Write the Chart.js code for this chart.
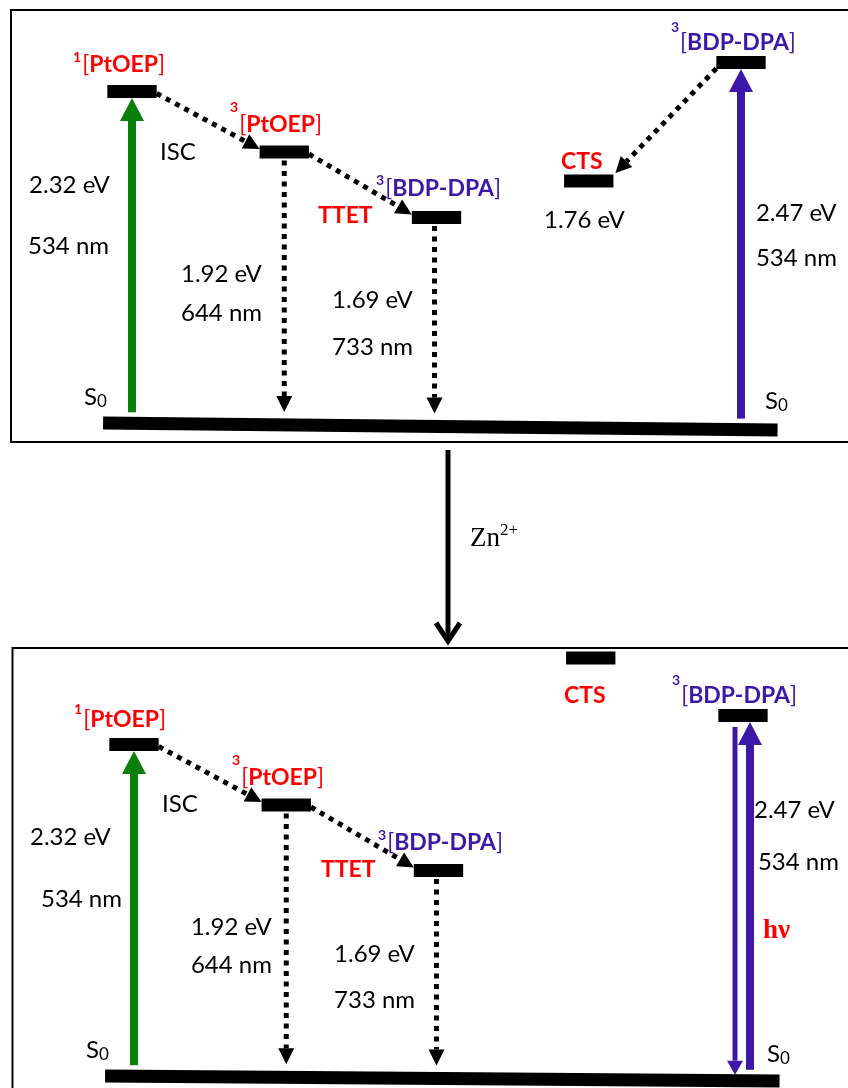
<!DOCTYPE html>
<html>
<head>
<meta charset="utf-8">
<title>PtOEP / BDP-DPA energy diagram</title>
<script src="https://cdn.jsdelivr.net/npm/chart.js@4/dist/chart.umd.min.js"></script>
<style>
    html, body { margin: 0; padding: 0; background: #fff; }
    canvas { display: block; }
</style>
</head>
<body>
<canvas id="topChart" width="848" height="647"></canvas>
<canvas id="bottomChart" width="848" height="441"></canvas>
<script>
/* ---- data -------------------------------------------------------- */
// states, left to right (one column each)
const levelNames = ['1[PtOEP]', '3[PtOEP]', '3[BDP-DPA]', 'CTS', '3[BDP-DPA]'];
const levelColumn = [1, 2, 3, 4, 5];
// schematic level heights (relative units, S0 = 0)
const topLevelE = [6.63, 5.42, 4.11, 4.84, 7.21];
const bottomLevelE = [6.63, 5.42, 4.11, 8.36, 7.21];
// ground state bar: column span and height at each end (drawn slightly tilted)
const groundSpan = [0.81, 5.24];
const topGroundE = [0, -0.14];
const bottomGroundE = [0, -0.10];

// transitions [from, to]; -1 means S0
const topTransitions = [[-1, 0], [0, 1], [1, 2], [1, -1], [2, -1], [-1, 4], [4, 3]];
const topTransitionKind = ['absorb', 'dot', 'dot', 'dot', 'dot', 'absorb', 'dot'];
const bottomTransitions = [[-1, 0], [0, 1], [1, 2], [1, -1], [2, -1], [-1, 4], [4, -1]];
const bottomTransitionKind = ['absorb', 'dot', 'dot', 'dot', 'dot', 'absorb', 'emit'];

// text on the diagram
const topLabels = ['1[PtOEP]', 'ISC', '3[PtOEP]', '2.32 eV', '534 nm', '1.92 eV', '644 nm',
    'TTET', '3[BDP-DPA]', '1.69 eV', '733 nm', 'S0', 'CTS', '1.76 eV', '3[BDP-DPA]',
    '2.47 eV', '534 nm', 'S0'];
const bottomLabels = ['1[PtOEP]', 'ISC', '3[PtOEP]', '2.32 eV', '534 nm', '1.92 eV', '644 nm',
    'TTET', '3[BDP-DPA]', '1.69 eV', '733 nm', 'S0', 'CTS', '3[BDP-DPA]',
    '2.47 eV', '534 nm', 'hν', 'S0'];

(function () {
    'use strict';

    const GREEN = '#0a800a';
    const PURPLE = '#3d18a8';
    const RED = '#ff0000';
    const INK = '#000000';
    const SANS = 'Lato, "Open Sans", sans-serif';
    const SERIF = '"Liberation Serif", "DejaVu Serif", serif';
    const HALF = 0.162;   // half width of a level bar (column units)
    const BAR = 13;       // bar thickness, px

    /* label placement: [x, y] in data units, style, superscript rise
     * -------------------------------------------------- */
    const topPlace = [
        [0.613, 7.02, 'red', 10], [1.184, 5.26, 'plain'], [1.644, 5.82, 'red', 20],
        [0.324, 4.60, 'plain'], [0.317, 3.38, 'plain'], [1.322, 2.82, 'plain'], [1.322, 2.04, 'plain'],
        [2.222, 4.00, 'tag'], [2.603, 4.54, 'purple', 11], [2.314, 2.30, 'plain'], [2.314, 1.36, 'plain'],
        [0.685, 0.36, 'ground'], [3.818, 5.08, 'tag'], [3.706, 3.90, 'plain'], [4.540, 7.46, 'purple', 18],
        [5.098, 4.04, 'plain'], [5.098, 3.14, 'plain'], [5.158, 0.28, 'ground']
    ];
    const bottomPlace = [
        [0.606, 6.98, 'red', 13], [1.184, 5.28, 'plain'], [1.644, 5.82, 'red', 20],
        [0.317, 4.62, 'plain'], [0.389, 3.38, 'plain'], [1.374, 2.82, 'plain'], [1.374, 2.06, 'plain'],
        [2.228, 3.98, 'tag'], [2.603, 4.52, 'purple', 10], [2.314, 2.28, 'plain'], [2.314, 1.36, 'plain'],
        [0.685, 0.36, 'ground'], [3.824, 7.46, 'tag'], [4.534, 7.46, 'purple', 18],
        [5.072, 5.16, 'plain'], [5.098, 4.12, 'plain'], [5.131, 2.76, 'hv'], [5.158, 0.28, 'ground']
    ];

    /* Drawing helpers
     * -------------------------------------------------- */
    function solidArrow(ctx, x, y0, y1, shaftW, headW, headL, color) {
        const dir = Math.sign(y1 - y0);
        const base = y1 - dir * headL;
        ctx.fillStyle = color;
        ctx.fillRect(x - shaftW / 2, Math.min(y0, base), shaftW, Math.abs(base - y0));
        ctx.beginPath();
        ctx.moveTo(x - headW / 2, base);
        ctx.lineTo(x + headW / 2, base);
        ctx.lineTo(x, y1);
        ctx.closePath();
        ctx.fill();
    }

    function dottedArrow(ctx, x0, y0, x1, y1) {
        const len = Math.hypot(x1 - x0, y1 - y0);
        const ux = (x1 - x0) / len, uy = (y1 - y0) / len;
        const headL = 16, headW = 8;
        const bx = x1 - ux * headL, by = y1 - uy * headL;
        ctx.save();
        ctx.strokeStyle = INK;
        ctx.lineWidth = 5;
        ctx.lineCap = 'butt';
        ctx.setLineDash([5, 5.5]);
        ctx.beginPath();
        ctx.moveTo(x0, y0);
        ctx.lineTo(bx, by);
        ctx.stroke();
        ctx.restore();
        ctx.fillStyle = INK;
        ctx.beginPath();
        ctx.moveTo(x1, y1);
        ctx.lineTo(bx - uy * headW, by + ux * headW);
        ctx.lineTo(bx + uy * headW, by - ux * headW);
        ctx.closePath();
        ctx.fill();
    }

    function drawState(ctx, txt, x, y, color, rise) {
        const inner = txt.slice(2, -1);
        ctx.fillStyle = color;
        ctx.font = 'bold 14px ' + SANS;
        ctx.fillText(txt[0], x, y - rise);
        x += ctx.measureText(txt[0]).width + 1;
        ctx.font = '23px ' + SANS;
        ctx.fillText('[', x, y);
        x += ctx.measureText('[').width;
        ctx.font = 'bold 23px ' + SANS;
        ctx.fillText(inner, x, y);
        x += ctx.measureText(inner).width;
        ctx.font = '23px ' + SANS;
        ctx.fillText(']', x, y);
    }

    function drawLabel(ctx, txt, x, y, style, rise) {
        ctx.textAlign = 'left';
        ctx.textBaseline = 'alphabetic';
        if (style === 'red' || style === 'purple') {
            drawState(ctx, txt, x, y, style === 'red' ? RED : PURPLE, rise);
        } else if (style === 'tag') {
            ctx.fillStyle = RED;
            ctx.font = 'bold 23px ' + SANS;
            ctx.fillText(txt, x, y);
        } else if (style === 'ground') {
            ctx.fillStyle = INK;
            ctx.font = '24px ' + SANS;
            ctx.fillText(txt[0], x, y);
            const w = ctx.measureText(txt[0]).width;
            ctx.font = '17px ' + SANS;
            ctx.fillText(txt.slice(1), x + w, y + 2);
        } else if (style === 'hv') {
            ctx.fillStyle = RED;
            ctx.font = 'bold 27px ' + SERIF;
            ctx.fillText(txt, x, y);
        } else {
            ctx.fillStyle = INK;
            ctx.font = '24px ' + SANS;
            ctx.fillText(txt, x, y);
        }
    }

    /* One panel = one chart
     * -------------------------------------------------- */
    function makePanel(canvasId, panel) {
        const levelSets = panel.levelE.map(function (e, i) {
            return {
                label: levelNames[i],
                data: [{ x: levelColumn[i] - HALF, y: e }, { x: levelColumn[i] + HALF, y: e }],
                showLine: true,
                borderColor: INK,
                borderWidth: BAR,
                borderCapStyle: 'butt',
                pointRadius: 0,
                fill: false
            };
        });
        levelSets.push({
            label: 'S0',
            data: [{ x: groundSpan[0], y: panel.groundE[0] }, { x: groundSpan[1], y: panel.groundE[1] }],
            showLine: true,
            borderColor: INK,
            borderWidth: BAR,
            borderCapStyle: 'butt',
            pointRadius: 0,
            fill: false
        });

        const diagram = {
            id: 'diagram_' + canvasId,
            beforeDatasetsDraw: function (chart) {
                const ctx = chart.ctx;
                const xs = chart.scales.x, ys = chart.scales.y;

                const lvl = function (i) {
                    const c = levelColumn[i];
                    return {
                        cx: xs.getPixelForValue(c),
                        left: xs.getPixelForValue(c - HALF),
                        right: xs.getPixelForValue(c + HALF),
                        y: ys.getPixelForValue(panel.levelE[i])
                    };
                };
                const groundAt = function (px) {
                    const v = xs.getValueForPixel(px);
                    const t = (v - groundSpan[0]) / (groundSpan[1] - groundSpan[0]);
                    return ys.getPixelForValue(panel.groundE[0] + (panel.groundE[1] - panel.groundE[0]) * t);
                };

                // panel frame
                ctx.save();
                ctx.strokeStyle = INK;
                ctx.lineWidth = 2;
                ctx.strokeRect(panel.frame[0], panel.frame[1], panel.frame[2], panel.frame[3]);
                ctx.restore();

                panel.transitions.forEach(function (tr, k) {
                    const kind = panel.kinds[k];
                    const shift = panel.shifts[k] || 0;
                    if (kind === 'absorb') {
                        const L = lvl(tr[1]);
                        const x = L.cx + shift;
                        const color = levelColumn[tr[1]] === 1 ? GREEN : PURPLE;
                        solidArrow(ctx, x, groundAt(x) - 11, L.y + BAR / 2, 8, 24, 23, color);
                    } else if (kind === 'emit') {
                        const L = lvl(tr[0]);
                        const x = L.cx + shift;
                        solidArrow(ctx, x, L.y + BAR / 2 + 5, groundAt(x) - 6, 5, 16, 14, PURPLE);
                    } else if (tr[1] === -1) {
                        const L = lvl(tr[0]);
                        const x = L.cx + shift;
                        dottedArrow(ctx, x, L.y + BAR / 2 + 2, x, groundAt(x) - 13);
                    } else {
                        const A = lvl(tr[0]), B = lvl(tr[1]);
                        if (B.cx > A.cx) {
                            dottedArrow(ctx, A.right, A.y + 2, B.left, B.y - 3);
                        } else {
                            dottedArrow(ctx, A.left, A.y + 6, B.right + 2, B.y - 8);
                        }
                    }
                });
            },
            afterDatasetsDraw: function (chart) {
                const ctx = chart.ctx;
                const xs = chart.scales.x, ys = chart.scales.y;
                ctx.save();
                panel.labels.forEach(function (txt, i) {
                    const p = panel.place[i];
                    drawLabel(ctx, txt, xs.getPixelForValue(p[0]), ys.getPixelForValue(p[1]), p[2], p[3] || 0);
                });

                // Zn2+ connector between the two panels
                if (panel.connector) {
                    ctx.fillStyle = INK;
                    ctx.fillRect(445.5, 450, 5, 190);
                    ctx.strokeStyle = INK;
                    ctx.lineWidth = 5;
                    ctx.lineJoin = 'miter';
                    ctx.beginPath();
                    ctx.moveTo(436, 623);
                    ctx.lineTo(448, 641);
                    ctx.lineTo(460, 623);
                    ctx.stroke();
                    ctx.textAlign = 'left';
                    ctx.font = '27px ' + SERIF;
                    ctx.fillText('Zn', 470, 546);
                    const w = ctx.measureText('Zn').width;
                    ctx.font = '17px ' + SERIF;
                    ctx.fillText('2+', 470 + w, 535);
                }
                ctx.restore();
            }
        };

        return new Chart(document.getElementById(canvasId), {
            type: 'scatter',
            data: { datasets: levelSets },
            options: {
                responsive: false,
                animation: false,
                devicePixelRatio: 1,
                layout: { padding: 0 },
                scales: {
                    x: { type: 'linear', min: panel.xRange[0], max: panel.xRange[1], display: false },
                    y: { type: 'linear', min: panel.yRange[0], max: panel.yRange[1], display: false }
                },
                plugins: {
                    legend: { display: false },
                    tooltip: { enabled: false }
                },
                events: []
            },
            plugins: [diagram]
        });
    }

    /* Init
     * -------------------------------------------------- */
    makePanel('topChart', {
        levelE: topLevelE,
        groundE: topGroundE,
        transitions: topTransitions,
        kinds: topTransitionKind,
        shifts: [0, 0, 0, 0, -2, 0, 0],
        labels: topLabels,
        place: topPlace,
        xRange: [0.1330, 5.7028],
        yRange: [-4.48, 8.46],
        frame: [11, 10, 860, 432],
        connector: true
    });

    makePanel('bottomChart', {
        levelE: bottomLevelE,
        groundE: bottomGroundE,
        transitions: bottomTransitions,
        kinds: bottomTransitionKind,
        shifts: [0, 0, 0, 0, -2, 7, -8],
        labels: bottomLabels,
        place: bottomPlace,
        xRange: [0.1199, 5.6897],
        yRange: [-0.24, 8.58],
        frame: [12.5, 1, 860, 460],
        connector: false
    });
})();
</script>
</body>
</html>
